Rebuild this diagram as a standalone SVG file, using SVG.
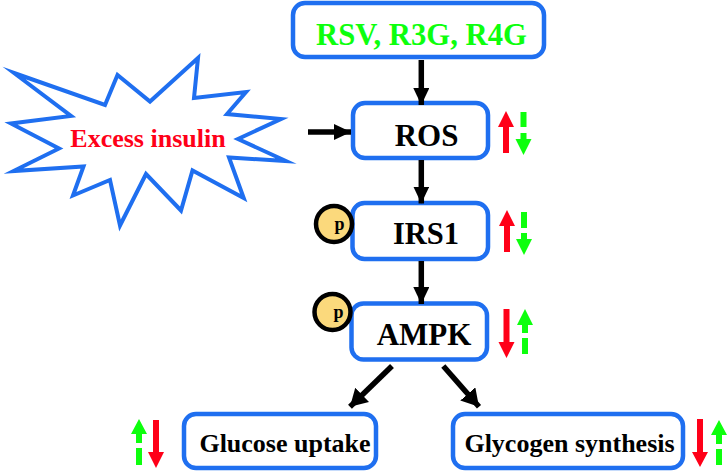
<svg xmlns="http://www.w3.org/2000/svg" width="728" height="473" viewBox="0 0 728 473">
<style>
.box{fill:#fff;stroke:#1f6ff0;stroke-width:4.5}
.t{font-family:"Liberation Serif","Times New Roman",serif;font-weight:bold;fill:#000}
.c{stroke:#000;stroke-width:5.5;fill:none;marker-end:url(#ah)}
.d{stroke:#000;stroke-width:5.5;fill:none;marker-end:url(#ad)}
.r{fill:#ff0018}
.g{fill:#0dff0d}
.pc{fill:#fbd97c;stroke:#000;stroke-width:4.5}
</style>
<defs>
<marker id="ah" markerUnits="userSpaceOnUse" markerWidth="20" markerHeight="20" refX="17" refY="8" orient="auto"><path d="M0 0L17 8L0 16Z" fill="#000"/></marker>
<marker id="ad" markerUnits="userSpaceOnUse" markerWidth="22" markerHeight="22" refX="17" refY="10" orient="auto"><path d="M0 0L17 10L0 20Z" fill="#000"/></marker>
</defs>
<g id="top-node"><rect class="box" x="293" y="3" width="251" height="54" rx="12"/><text class="t" x="421.500" y="45" font-size="30.700" text-anchor="middle" style="fill:#0dff0d">RSV, R3G, R4G</text></g>
<g id="excess-insulin"><path d="M14 73L105 105L117.500 75L150 101.500L198 58L194 98L246 92L227 114L281 119L238 139L286 161L229 157.500L243.700 198L192.500 170.500L181 210.500L146 174L120 225.500L110 180L73 195.500L83.500 166.500L13.500 171L59 148.500L11 123.500L71 116Z" fill="#fff" stroke="#1f6ff0" stroke-width="4" stroke-miterlimit="20"/><text class="t" x="148" y="147" font-size="26" text-anchor="middle" style="fill:#ff0018">Excess insulin</text></g>
<g id="ros"><rect class="box" x="353" y="103" width="135" height="55" rx="12"/><text class="t" x="426.500" y="146" font-size="31" text-anchor="middle">ROS</text></g>
<g id="irs1"><rect class="box" x="352.500" y="203" width="135.500" height="56" rx="12"/><text class="t" x="426" y="244" font-size="30.500" text-anchor="middle">IRS1</text></g>
<g id="ampk"><rect class="box" x="351.500" y="303.500" width="135.500" height="56" rx="12"/><text class="t" x="424" y="345" font-size="31" text-anchor="middle">AMPK</text></g>
<g id="glucose"><rect class="box" x="184" y="414" width="192" height="54" rx="12"/><text class="t" x="285" y="452" font-size="26" text-anchor="middle">Glucose uptake</text></g>
<g id="glycogen"><rect class="box" x="453" y="414" width="230" height="54" rx="12"/><text class="t" x="569.500" y="452" font-size="26" text-anchor="middle">Glycogen synthesis</text></g>
<g id="p1"><circle class="pc" cx="334" cy="224" r="18"/><text class="t" x="339.500" y="230" font-size="18" text-anchor="middle">p</text></g>
<g id="p2"><circle class="pc" cx="332.500" cy="312" r="18"/><text class="t" x="338.500" y="317.500" font-size="18" text-anchor="middle">p</text></g>
<g id="connectors">
<path class="c" d="M421.300 60V105"/>
<path class="c" d="M421.300 160V203.500"/>
<path class="c" d="M421.300 261V304"/>
<path class="c" d="M308 132H351"/>
<path class="d" d="M392 366L350 406.700"/>
<path class="d" d="M443.300 366L479 406.700"/>
</g>
<g id="ros-arrows">
<path class="r" d="M506 111L514 127H509V153H503V127H498Z"/>
<path class="g" d="M520.500 112H526.500V127H520.500ZM520.500 133H526.500V139H531.500L523.500 155L515.500 139H520.500Z"/>
</g>
<g id="irs1-arrows">
<path class="r" d="M507 210L515 226H510V252H504V226H499Z"/>
<path class="g" d="M521 212H527V228H521ZM521 233H527V239H532L524 255L516 239H521Z"/>
</g>
<g id="ampk-arrows">
<path class="r" d="M503.500 309H509.500V342H514.500L506.500 358L498.500 342H503.500Z"/>
<path class="g" d="M525 309L533 325H528V333H522V325H517ZM522 338H528V354H522Z"/>
</g>
<g id="glucose-arrows">
<path class="g" d="M139 419L147 434H142V443H136V434H131ZM136 448H142V465H136Z"/>
<path class="r" d="M153 420H159V452H164L156 468L148 452H153Z"/>
</g>
<g id="glycogen-arrows">
<path class="r" d="M697 419H703V452H708L700 467L692 452H697Z"/>
<path class="g" d="M719 420L727 435H722V444H716V435H711ZM716 449H722V465H716Z"/>
</g>
</svg>
